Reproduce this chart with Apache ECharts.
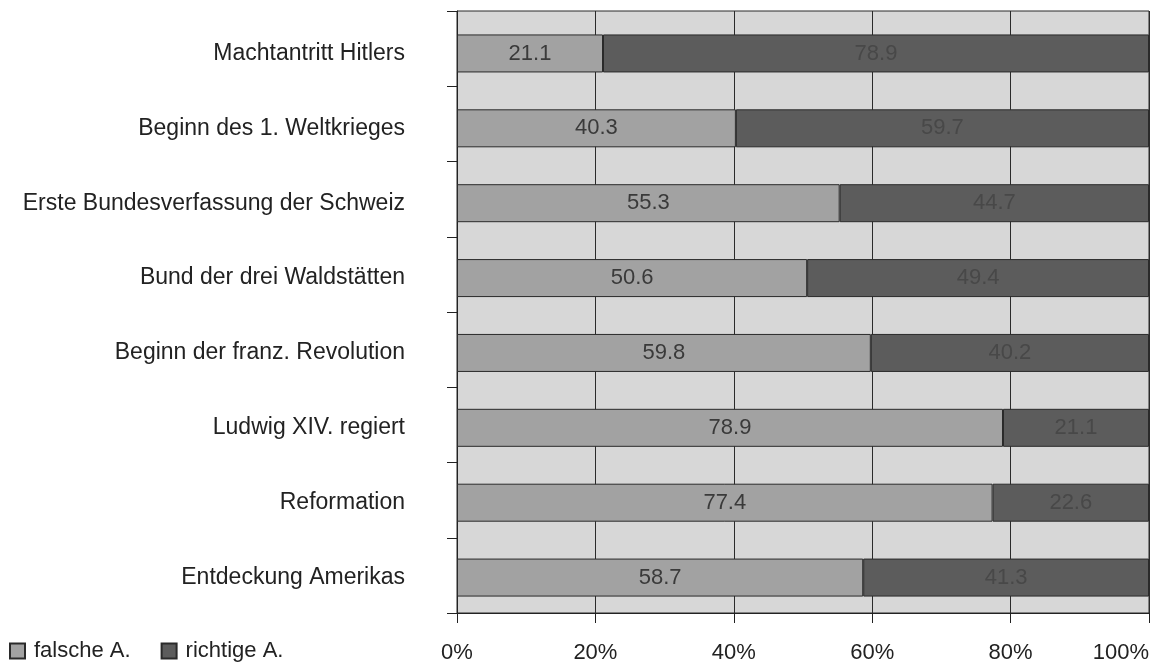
<!DOCTYPE html>
<html>
<head>
<meta charset="utf-8">
<script src="https://cdn.jsdelivr.net/npm/echarts@6/dist/echarts.min.js"></script>
<style>
  html, body { margin: 0; padding: 0; background: #fff; }
  #chart { width: 1154px; height: 664px; }
</style>
</head>
<body>
<div id="chart"></div>
<script>
// Kategorien von oben nach unten
const categories = [
  'Machtantritt Hitlers',
  'Beginn des 1. Weltkrieges',
  'Erste Bundesverfassung der Schweiz',
  'Bund der drei Waldstätten',
  'Beginn der franz. Revolution',
  'Ludwig XIV. regiert',
  'Reformation',
  'Entdeckung Amerikas'
]
const falscheA = [21.1, 40.3, 55.3, 50.6, 59.8, 78.9, 77.4, 58.7]
const richtigeA = [78.9, 59.7, 44.7, 49.4, 40.2, 21.1, 22.6, 41.3]
const seriesNames = ['falsche A.', 'richtige A.']

const fontFamily = '"Liberation Sans", Arial, sans-serif'
const lineColor = '#2a2a2a'
const chart = echarts.init(document.getElementById('chart'))

// Grid 0: Rahmen, Raster, Ticks; Grid 1: Balken + Beschriftung (leicht nach unten versetzt wie im Original)
chart.setOption({
  animation: false,
  textStyle: { fontFamily },
  grid: [
    {
      left: 457, right: 5, top: 11, bottom: 51,
      show: true,
      backgroundColor: '#d7d7d7',
      borderColor: lineColor,
      borderWidth: 1
    },
    { left: 457, right: 5, top: 16, bottom: 49 }
  ],
  legend: {
    left: 4, top: 635,
    itemWidth: 15, itemHeight: 15,
    itemGap: 30,
    icon: 'rect',
    textStyle: { fontSize: 22, color: '#222', fontFamily, padding: [0, 0, 0, 4] },
    data: seriesNames
  },
  xAxis: [
    {
      type: 'value', gridIndex: 0,
      min: 0, max: 100, interval: 20,
      axisLine: { show: true, lineStyle: { color: '#222' } },
      axisTick: { show: true, length: 10, lineStyle: { color: '#222' } },
      axisLabel: {
        formatter: '{value}%',
        fontSize: 22, color: '#222', margin: 29,
        alignMaxLabel: 'right'
      },
      splitLine: { show: true, lineStyle: { color: lineColor, width: 1 } }
    },
    {
      type: 'value', gridIndex: 1,
      min: 0, max: 100, interval: 20,
      show: false
    }
  ],
  yAxis: [
    {
      type: 'category', gridIndex: 0,
      inverse: true,
      data: categories,
      axisLine: { show: true, lineStyle: { color: '#222' } },
      axisTick: { show: true, length: 10, lineStyle: { color: '#222' } },
      axisLabel: { show: false },
      splitLine: { show: false }
    },
    {
      type: 'category', gridIndex: 1,
      inverse: true,
      data: categories,
      axisLine: { show: false },
      axisTick: { show: false },
      axisLabel: { fontSize: 23, color: '#222', margin: 52 },
      splitLine: { show: false }
    }
  ],
  series: [
    {
      name: seriesNames[0],
      type: 'bar',
      xAxisIndex: 1, yAxisIndex: 1,
      stack: 'total',
      barWidth: 38,
      data: falscheA,
      itemStyle: { color: '#a2a2a2', borderColor: lineColor, borderWidth: 1 },
      label: {
        show: true, position: 'inside',
        fontSize: 22, color: '#3a3a3a',
        formatter: p => p.value.toFixed(1)
      }
    },
    {
      name: seriesNames[1],
      type: 'bar',
      xAxisIndex: 1, yAxisIndex: 1,
      stack: 'total',
      barWidth: 38,
      data: richtigeA,
      itemStyle: { color: '#5c5c5c', borderColor: lineColor, borderWidth: 1 },
      label: {
        show: true, position: 'inside',
        fontSize: 22, color: '#484848',
        formatter: p => p.value.toFixed(1)
      }
    }
  ]
})
</script>
</body>
</html>
